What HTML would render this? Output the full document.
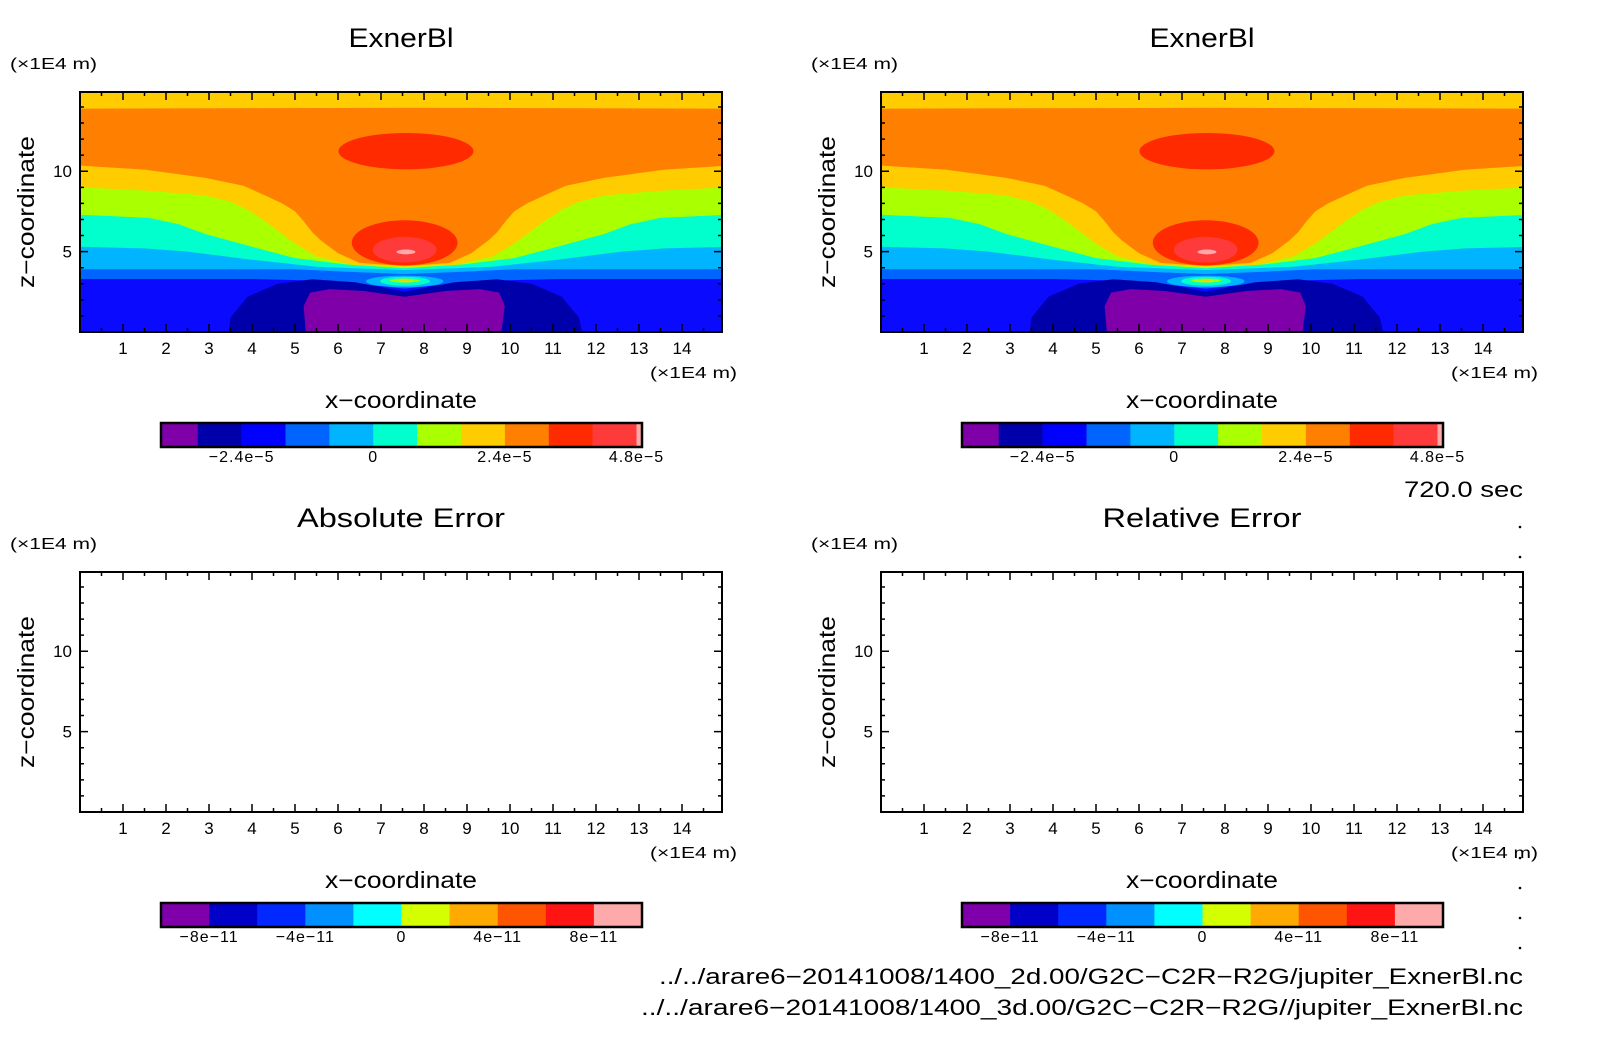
<!DOCTYPE html>
<html><head><meta charset="utf-8">
<style>
html,body{margin:0;padding:0;background:#fff;}
svg{display:block;font-family:"Liberation Sans",sans-serif;}
</style></head>
<body>
<svg id="fig" width="1604" height="1054" viewBox="0 0 1604 1054" xmlns="http://www.w3.org/2000/svg"></svg>
<script>
// ---- data ----
const xRange = [0, 14.93];
const zRange = [0, 14.93];
const xTickLabels = [1,2,3,4,5,6,7,8,9,10,11,12,13,14];
const zTickLabels = [5,10];
const panelTitles = ["ExnerBl","ExnerBl","Absolute Error","Relative Error"];
const titleWidths = [105,105,208,199];
const xc = 7.55;
const bandColors = ["#0064ff","#00b4ff","#00ffcc","#aaff00","#ffcc00","#ff8000","#ffcc00"];
const band0064 = [[0,3.3],[4,3.3],[5.5,3.2],[6.5,3.0],[7.55,2.7]];
const band00b4 = [[0,3.9],[5,3.9],[6.2,3.75],[7.55,3.6]];
const bandCyan = [[0,5.3],[1.5,5.2],[2.5,5.0],[4,4.5],[5.5,4.06],[7.55,3.85]];
const bandGreen = [[0,7.3],[1.6,7.1],[2.3,6.7],[2.9,6.1],[4,5.3],[5,4.6],[6.2,4.2],[7.55,3.96]];
const bandYellow = [[0,9.0],[1.5,8.8],[2.9,8.5],[3.5,8.1],[3.9,7.6],[4.3,6.9],[4.6,6.3],[5,5.5],[5.5,4.7],[6.3,4.2],[7.55,4.06]];
const bandOrange = [[0,10.35],[1.5,10.1],[2.9,9.6],[3.8,9.1],[4.3,8.5],[4.7,8.0],[5.0,7.5],[5.2,6.9],[5.4,6.2],[5.6,5.7],[6.0,4.9],[6.5,4.3],[7.55,4.1]];
const bandTop = [[0,13.9],[7.55,13.95]];
const bands = [band0064,band00b4,bandCyan,bandGreen,bandYellow,bandOrange,bandTop];
const darkBlue = [[3.46,0],[3.5,0.9],[3.9,2.2],[4.6,3.0],[5.4,3.28],[6.4,3.1],[7.55,2.5],[8.7,3.1],[9.7,3.28],[10.5,3.0],[11.2,2.2],[11.6,0.9],[11.68,0]];
const purple = [[5.25,0],[5.2,1.6],[5.35,2.45],[5.8,2.67],[6.6,2.55],[7.55,2.19],[8.5,2.55],[9.3,2.67],[9.75,2.45],[9.88,1.6],[9.8,0]];
const ellipses = [
  [7.58,11.25,1.57,1.13,"#ff2a00"],
  [7.55,5.55,1.23,1.4,"#ff2a00"],
  [7.55,5.12,0.74,0.8,"#ff3a3a"],
  [7.58,4.98,0.22,0.15,"#ffaaaa"],
  [7.55,3.15,0.9,0.36,"#00b4ff"],
  [7.56,3.16,0.58,0.28,"#00ffcc"],
  [7.56,3.2,0.35,0.12,"#aaff00"],
  [7.56,3.22,0.12,0.06,"#ffcc00"]
];
const cbTopColors = ["#7f00a8","#0000aa","#0000ff","#0064ff","#00b4ff","#00ffcc","#aaff00","#ffcc00","#ff8000","#ff2a00","#ff3a3a","#ffaaaa"];
const cbTopLevels = [-3.87,-3.2,-2.4,-1.6,-0.8,0,0.8,1.6,2.4,3.2,4.0,4.8,4.9];
const cbTopTicks = [-2.4,0,2.4,4.8];
const cbTopTickLabels = ["\u22122.4e\u22125","0","2.4e\u22125","4.8e\u22125"];
const cbBotColors = ["#7f00aa","#0000c8","#0028ff","#0090ff","#00ffff","#d4ff00","#ffaa00","#ff5500","#ff1414","#ffaaaa"];
const cbBotLevels = [-10,-8,-6,-4,-2,0,2,4,6,8,10];
const cbBotTicks = [-8,-4,0,4,8];
const cbBotTickLabels = ["\u22128e\u221211","\u22124e\u221211","0","4e\u221211","8e\u221211"];

const NS = "http://www.w3.org/2000/svg";
const svg = document.getElementById("fig");
function mk(tag, attrs, parent){const e=document.createElementNS(NS,tag);for(const k in attrs)e.setAttribute(k,attrs[k]);(parent||svg).appendChild(e);return e;}
function txt(s, attrs, parent){const e=mk("text",attrs,parent);e.textContent=s;return e;}
function fit(e,w){e.setAttribute("textLength",w);e.setAttribute("lengthAdjust","spacingAndGlyphs");}

const PW=642, PH=240;
function panel(ox, oy, idx, filled){
  const L=ox, T=oy, R=ox+PW, B=oy+PH;
  const sx = v => L + (v - xRange[0])/(xRange[1]-xRange[0])*PW;
  const sz = v => B - (v - zRange[0])/(zRange[1]-zRange[0])*PH;
  const g = mk("g",{});
  
  
  const t = txt(panelTitles[idx],{x:ox+321,y:oy-45,"font-size":27,"text-anchor":"middle"},g);
  fit(t,titleWidths[idx]);
  
  
  const u = txt("(\u00d71E4 m)",{x:ox-70,y:oy-23,"font-size":16},g);
  fit(u,87);
  
  
  if(filled){
    const cid="clip"+idx;
    const cp=mk("clipPath",{id:cid},g); mk("rect",{x:L,y:T,width:PW,height:PH},cp);
    const f=mk("g",{"clip-path":"url(#"+cid+")"},g);
    
    
    const bg=mk("rect",{x:L,y:T,width:PW,height:PH,fill:"#0a0aff"},f);
    
    
    const ptsStr = arr => arr.map(p=>sx(p[0]).toFixed(1)+","+sz(p[1]).toFixed(1)).join(" ");
    bands.forEach((b,i)=>{
      const mir = b.slice(0,-1).reverse().map(p=>[2*xc-p[0],p[1]]);
      const all=[[-1,16],[-1,b[0][1]],...b,...mir,[16,b[0][1]],[16,16]];
      const p=mk("polygon",{points:ptsStr(all),fill:bandColors[i]},f);
      
      
    });
    const db=mk("polygon",{points:ptsStr(darkBlue),fill:"#0000aa"},f);
    
    
    const pu=mk("polygon",{points:ptsStr(purple),fill:"#7f00a8"},f);
    
    
    ellipses.forEach(e=>{
      const el=mk("ellipse",{cx:sx(e[0]),cy:sz(e[1]),rx:Math.abs(sx(e[2])-sx(0)),ry:Math.abs(sz(0)-sz(e[3])),fill:e[4]},f);
      
      
    });
  }
  const fr=mk("rect",{x:L,y:T,width:PW,height:PH,fill:"none",stroke:"#000","stroke-width":2},g);
  
  
  let d="";
  for(let v=0.5; v<xRange[1]; v+=0.5){
    const x=sx(v), len=(Math.abs(v-Math.round(v))<1e-6)?8:4;
    d+=`M${x},${B}v${-len}M${x},${T}v${len}`;
  }
  for(let v=1; v<zRange[1]; v+=1){
    const y=sz(v), len=(v%5===0)?8:4;
    d+=`M${L},${y}h${len}M${R},${y}h${-len}`;
  }
  const tk=mk("path",{d:d,stroke:"#000","stroke-width":1.5,fill:"none"},g);
  
  
  xTickLabels.forEach(v=>{
    const e=txt(String(v),{x:sx(v),y:B+22,"font-size":17,"text-anchor":"middle"},g);
    
    
  });
  zTickLabels.forEach(v=>{
    const e=txt(String(v),{x:L-8,y:sz(v)+6,"font-size":17,"text-anchor":"end"},g);
    
    
  });
  const xu=txt("(\u00d71E4 m)",{x:R-88+16,y:B+46,"font-size":16},g);
  fit(xu,87);
  
  
  const xt=txt("x\u2212coordinate",{x:ox+245,y:B+76,"font-size":23},g);
  fit(xt,152);
  
  
  const yt=txt("z\u2212coordinate",{x:-76,y:0,"font-size":23,transform:`translate(${ox-46},${oy+120}) rotate(-90)`},g);
  fit(yt,152);
  
  
}

function colorbar(ox, oy, colors, levels, ticks, labels){
  const L=ox+81, W=481, H=24;
  const lo=levels[0], hi=levels[levels.length-1];
  const cx = v => L + (v-lo)/(hi-lo)*W;
  const g=mk("g",{});
  
  
  colors.forEach((c,i)=>{
    const r=mk("rect",{x:cx(levels[i]),y:oy,width:cx(levels[i+1])-cx(levels[i])+0.3,height:H,fill:c},g);
    
    
  });
  const fr=mk("rect",{x:L,y:oy,width:W,height:H,fill:"none",stroke:"#000","stroke-width":2.5},g);
  
  
  ticks.forEach((v,i)=>{
    const t=txt(labels[i],{x:cx(v),y:oy+39,"font-size":16,"text-anchor":"middle","letter-spacing":1},g);
    
    
  });
}

const offs=[[80,92],[881,92],[80,572],[881,572]];
offs.forEach((o,i)=>panel(o[0],o[1],i,i<2));
colorbar(80,423,cbTopColors,cbTopLevels,cbTopTicks,cbTopTickLabels);
colorbar(881,423,cbTopColors,cbTopLevels,cbTopTicks,cbTopTickLabels);
colorbar(80,903,cbBotColors,cbBotLevels,cbBotTicks,cbBotTickLabels);
colorbar(881,903,cbBotColors,cbBotLevels,cbBotTicks,cbBotTickLabels);

const tm=txt("720.0 sec",{x:1404,y:497,"font-size":22});
fit(tm,119);


const f1=txt("../../arare6\u221220141008/1400_2d.00/G2C\u2212C2R\u2212R2G/jupiter_ExnerBl.nc",{x:659,y:984,"font-size":22});
fit(f1,864);


const f2=txt("../../arare6\u221220141008/1400_3d.00/G2C\u2212C2R\u2212R2G//jupiter_ExnerBl.nc",{x:641,y:1015,"font-size":22});
fit(f2,882);


[527,557,858,888,918,948].forEach(y=>{
  const c=mk("circle",{cx:1520,cy:y,r:1.3,fill:"#000"});
  
  
});
</script>
</body></html>
